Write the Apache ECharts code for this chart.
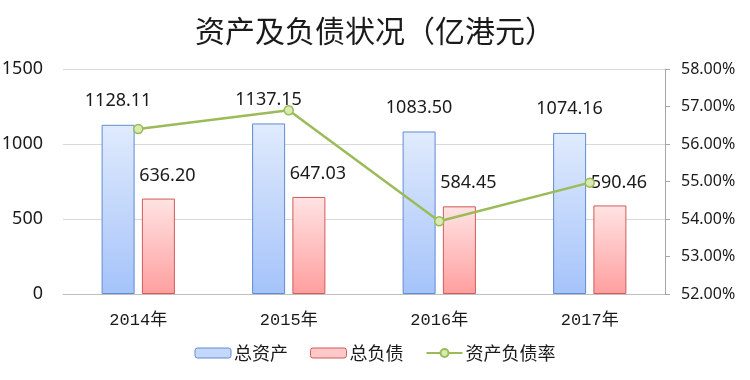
<!DOCTYPE html>
<html>
<head>
<meta charset="utf-8">
<script src="https://cdn.jsdelivr.net/npm/echarts@6/dist/echarts.min.js"></script>
<style>
html,body{margin:0;padding:0;background:#fff;}
#c{width:750px;height:380px;}
</style>
</head>
<body>
<div id="c"></div>
<script>
var titleText = '资产及负债状况（亿港元）';
var categories = ['2014年', '2015年', '2016年', '2017年'];
var totalAssets = [1128.11, 1137.15, 1083.50, 1074.16];
var totalLiabilities = [636.20, 647.03, 584.45, 590.46];
var debtRatio = [56.40, 56.90, 53.94, 54.97];
var seriesNames = ['总资产', '总负债', '资产负债率'];

var chart = echarts.init(document.getElementById('c'), null, {renderer: 'canvas'});

function grad(top, bottom) {
  return new echarts.graphic.LinearGradient(0, 0, 0, 1, [
    {offset: 0, color: top}, {offset: 1, color: bottom}
  ]);
}
var blueFill = grad('#e0ebfd', '#a5c3fa');
var redFill = grad('#ffe3e3', '#ff9f9f');
var labelFont = {fontFamily: 'Noto Sans', fontSize: 18, color: '#1a1a1a'};

chart.setOption({
  animation: false,
  title: {
    text: titleText,
    left: 370,
    textAlign: 'center',
    top: 11,
    textStyle: {fontFamily: 'Noto Sans CJK SC', fontSize: 30, fontWeight: 'normal', color: '#1a1a1a'}
  },
  legend: {
    bottom: 13,
    left: 'center',
    itemWidth: 36,
    itemHeight: 10,
    itemGap: 22,
    textStyle: {fontFamily: 'Noto Sans CJK SC', fontSize: 18, color: '#1a1a1a', padding: [0, 0, 0, -2]},
    data: [
      {name: seriesNames[0], itemStyle: {color: '#c4d8fb', borderColor: '#5f8bd4', borderWidth: 1}},
      {name: seriesNames[1], itemStyle: {color: '#ffc8c8', borderColor: '#d25a5a', borderWidth: 1}},
      {name: seriesNames[2]}
    ]
  },
  grid: {left: 63, right: 85, top: 69, bottom: 86, containLabel: false, outerBoundsMode: 'none'},
  xAxis: {
    type: 'category',
    data: categories,
    axisLine: {lineStyle: {color: '#bfbfbf', width: 1}},
    axisTick: {show: false},
    axisLabel: {fontFamily: 'Liberation Mono, Noto Sans CJK SC', fontSize: 17, color: '#1a1a1a', margin: 18}
  },
  yAxis: [
    {
      type: 'value', min: 0, max: 1500, interval: 500,
      axisLine: {show: false}, axisTick: {show: false},
      splitLine: {lineStyle: {color: '#d9d9d9', width: 1}},
      axisLabel: {fontFamily: 'Noto Sans', fontSize: 18, color: '#1a1a1a', margin: 20,
        formatter: function (v) { return String(v); }}
    },
    {
      type: 'value', min: 52, max: 58, interval: 1, position: 'right',
      axisLine: {show: true, lineStyle: {color: '#a6a6a6', width: 1}},
      axisTick: {show: true, length: 5, lineStyle: {color: '#a6a6a6'}},
      splitLine: {show: false},
      axisLabel: {fontFamily: 'Noto Sans', fontSize: 16, color: '#1a1a1a', margin: 16,
        formatter: function (v) { return v.toFixed(2) + '%'; }}
    }
  ],
  series: [
    {
      name: seriesNames[0], type: 'bar', data: totalAssets, barWidth: 33, barGap: '22%',
      itemStyle: {color: blueFill, borderColor: '#5f8bd4', borderWidth: 1},
      label: Object.assign({show: true, position: 'top', distance: 15,
        formatter: function (p) { return p.value.toFixed(2); }}, labelFont)
    },
    {
      name: seriesNames[1], type: 'bar', data: totalLiabilities, barWidth: 33,
      itemStyle: {color: redFill, borderColor: '#d25a5a', borderWidth: 1},
      label: Object.assign({show: true, position: 'top', distance: 14, offset: [9, 0],
        formatter: function (p) { return p.value.toFixed(2); }}, labelFont)
    },
    {
      name: seriesNames[2], type: 'line', yAxisIndex: 1, data: debtRatio, z: 5,
      symbol: 'circle', symbolSize: 9,
      lineStyle: {color: '#9bbb59', width: 2.5},
      itemStyle: {color: '#d8ebb0', borderColor: '#9bbb59', borderWidth: 1.5}
    }
  ]
});
</script>
</body>
</html>
